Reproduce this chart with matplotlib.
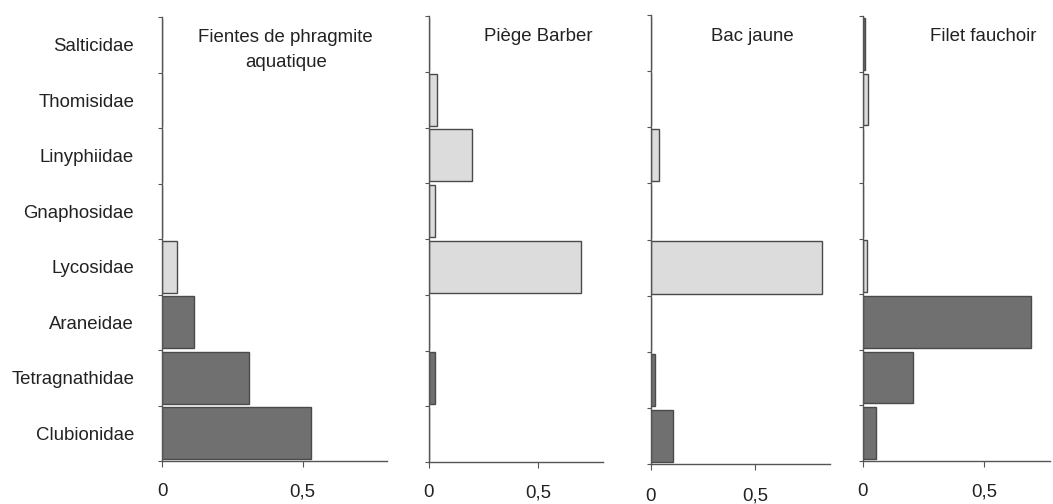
import matplotlib
matplotlib.use("Agg")
import matplotlib.pyplot as plt
import matplotlib.transforms as mtransforms
import numpy as np

plt.rcParams['font.family'] = ['Liberation Sans', 'DejaVu Sans']

# Categories listed bottom -> top
families = ["Clubionidae", "Tetragnathidae", "Araneidae", "Lycosidae",
            "Gnaphosidae", "Linyphiidae", "Thomisidae", "Salticidae"]
# dark = web/foliage spiders, light = ground/hunting spiders
is_dark = [True, True, True, False, False, False, False, True]

titles = ["Fientes de phragmite\naquatique", "Piège Barber", "Bac jaune", "Filet fauchoir"]

fientes = [0.53, 0.31, 0.115, 0.055, 0.0, 0.0, 0.0, 0.0]
barber = [0.0, 0.028, 0.0, 0.70, 0.028, 0.197, 0.037, 0.0]
bac_jaune = [0.105, 0.02, 0.0, 0.82, 0.0, 0.04, 0.0, 0.0]
filet = [0.053, 0.205, 0.69, 0.015, 0.0, 0.0, 0.02, 0.01]

series = [fientes, barber, bac_jaune, filet]
xtick_vals = [0, 0.5]
xtick_labels = ["0", "0,5"]

W, H = 1053, 504
fig = plt.figure(figsize=(W / 100, H / 100), dpi=100)

# axes placement in pixels: (left, right, top, bottom, xmax)
panels = [(162, 387, 17, 461, 0.80), (429, 603, 16, 462, 0.80),
          (651, 830, 15, 464, 0.86), (863, 1050, 16, 461, 0.77)]
title_x = [0.44, 0.5, 0.486, 0.496]
xpads = [12, 12, 13, 12]

dark_col = "#707070"
light_col = "#dcdcdc"
edge_col = "#4a4a4a"
spine_col = "#555555"
text_col = "#222222"
fs = 13.4

y = np.arange(len(families))
for i, ((l, r, t, b, xmax), vals) in enumerate(zip(panels, series)):
    ax = fig.add_axes([l / W, 1 - b / H, (r - l) / W, (b - t) / H])
    colors = [dark_col if d else light_col for d in is_dark]
    ax.barh(y, vals, height=0.93, color=colors, edgecolor=edge_col, linewidth=1.0)
    ax.set_xlim(0, xmax)
    ax.set_ylim(-0.5, len(families) - 0.5)
    for s in ["top", "right"]:
        ax.spines[s].set_visible(False)
    for s in ["left", "bottom"]:
        ax.spines[s].set_color(spine_col)
        ax.spines[s].set_linewidth(1.0)
    ax.set_xticks(xtick_vals)
    ax.set_xticklabels(xtick_labels, fontsize=fs, color=text_col)
    ax.tick_params(axis="x", length=4, width=0.8, color=spine_col, pad=xpads[i])
    ax.set_yticks(y)
    ax.set_yticks(np.arange(-0.5, len(families), 1.0), minor=True)
    ax.tick_params(axis="y", which="major", length=0, pad=20)
    ax.tick_params(axis="y", which="minor", length=3, width=0.8, color=spine_col)
    if i == 0:
        ax.set_yticklabels(families, fontsize=fs, color=text_col)
    else:
        ax.set_yticklabels([])
    trans = mtransforms.blended_transform_factory(ax.transData, ax.transAxes)
    ax.text(title_x[i], 0.972, titles[i], transform=trans,
            ha="center", va="top", fontsize=fs, color=text_col, linespacing=1.6)

fig.savefig("out.png", dpi=100, facecolor="white")
